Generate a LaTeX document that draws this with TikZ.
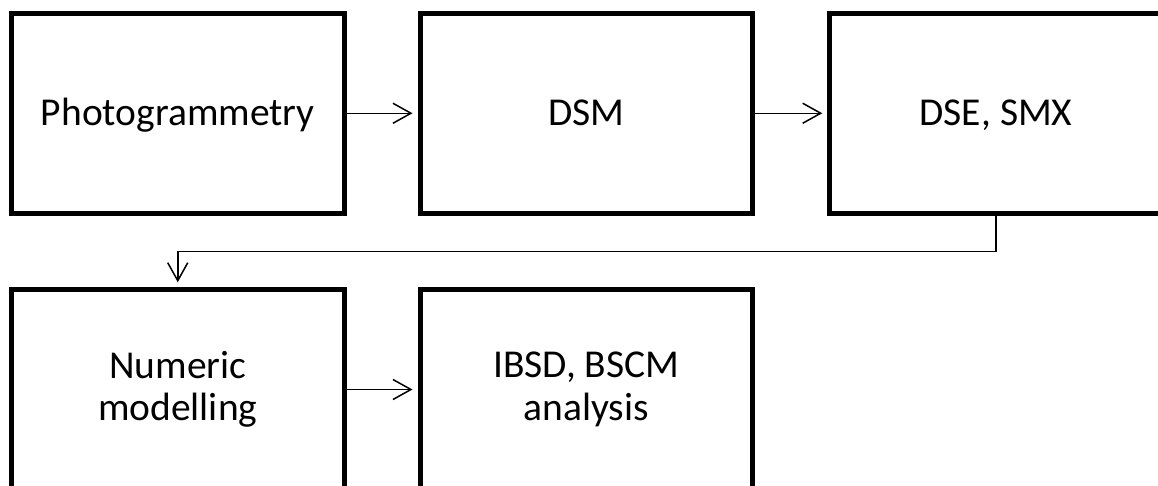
\documentclass[tikz,border=0pt]{standalone}
\usepackage{fontspec}
\setmainfont{Carlito}
\usetikzlibrary{arrows.meta}
\tikzset{
  blk/.style={draw=black, line width=5pt, miter limit=10, rectangle, inner sep=0pt,
    minimum width=332.5pt, minimum height=199.5pt, align=center,
    font=\fontsize{39.5}{42.5}\selectfont},
  oneline/.style={text height=24.5pt, text depth=0pt},
  conn/.style={draw=black, line width=1.5pt, -{Straight Barb[length=18pt,width=20pt,line width=1.5pt]}, shorten >=5pt}
}
\begin{document}
\begin{tikzpicture}[x=1pt,y=1pt]
\useasboundingbox (0,0) rectangle (1158,-485);
\node[blk,oneline] (photo) at (177.75,-113.25) {Photogrammetry};
\node[blk,oneline] (dsm) at (586.25,-113.25) {DSM};
\node[blk,oneline] (dse) at (996,-113.25) {DSE, SMX};
\node[blk] (num) at (177.75,-389.5) {Numeric\\modelling};
\node[blk] (ibsd) at (586.25,-389.5) {IBSD, BSCM\\analysis};
\draw[conn] (photo.east) -- (dsm.west);
\draw[conn] (dsm.east) -- (dse.west);
\draw[conn] (num.east) -- (ibsd.west);
\draw[conn] (dse.south) -- ++(0,-36) -| (num.north);
\end{tikzpicture}
\end{document}
